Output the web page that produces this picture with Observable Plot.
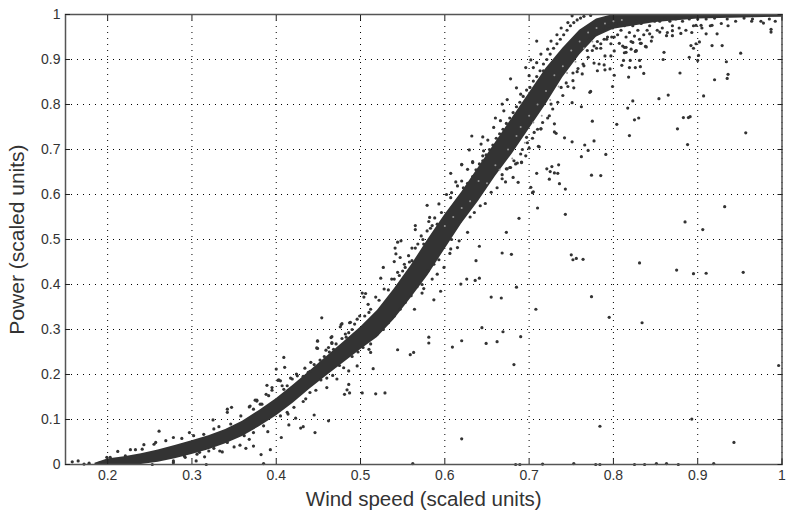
<!DOCTYPE html>
<html>
<head>
<meta charset="utf-8">
<script src="https://cdn.jsdelivr.net/npm/d3@7"></script>
<script src="https://cdn.jsdelivr.net/npm/@observablehq/plot@0.6"></script>
<style>html,body{margin:0;padding:0;background:#fff}svg{display:block}</style>
</head>
<body>
<div id="chart"></div>
<script>
// Solid heart of the cloud: wind speed, lower and upper power edge
const coreX = [.185,.2,.22,.24,.26,.28,.30,.32,.34,.36,.38,.40,.42,.44,.46,.48,.50,.52,.54,.56,.58,.60,.62,.64,.66,.68,.70,.72,.74,.76,.78,.80,.85,.90,1];
const coreLow = [0,0,0,0,.005,.013,.022,.033,.046,.062,.084,.108,.136,.168,.197,.226,.255,.282,.322,.37,.42,.478,.535,.585,.64,.69,.745,.80,.86,.91,.95,.967,.982,.99,.994];
const coreHigh = [.003,.012,.017,.024,.032,.042,.053,.064,.078,.096,.12,.146,.176,.208,.24,.272,.305,.342,.39,.442,.50,.555,.605,.66,.715,.77,.825,.88,.925,.965,.99,1,1,1,1];

// Small light gaps seen inside the upper part of the cloud
const gaps = [
[.60,.53],[.61,.55],[.62,.57],[.63,.585],[.64,.63],[.65,.625],[.66,.665],[.665,.655],[.675,.70],[.68,.68],[.685,.73],[.69,.75],[.695,.715],[.70,.775],[.705,.76],[.71,.80],[.715,.775],[.72,.83],[.725,.81],[.73,.865],[.735,.84],[.74,.885],[.745,.87],[.75,.92],[.755,.895],[.76,.94],[.765,.925],[.77,.96],[.775,.94],[.78,.97],[.79,.98],[.8,.985],[.81,.988]
];

// Isolated points far from the cloud
const farPoints = [
[.544,.255],[.559,.244],[.563,.249],[.581,.27],[.609,.261],[.62,.275],[.649,.269],[.662,.273],[.682,.222],[.996,.22],[.515,.213],[.512,.249],[.486,.178],[.484,.166],[.481,.156],[.487,.159],[.502,.159],[.518,.157],[.529,.159],[.445,.11],[.462,.097],[.446,.071],[.432,.084],[.429,.081],[.62,.057],[.784,.085],[.893,.101],[.943,.049],
[.562,.002],[.684,0],[.689,0],[.716,.001],[.753,.002],[.779,0],[.784,0],[.825,0],[.837,0],[.851,.002],[.863,.002],[.877,0],[.919,.002],
[.710,.570],[.743,.556],[.688,.547],[.673,.516],[.704,.604],[.885,.539],[.906,.522],[.932,.573],[.668,.470],[.679,.467],[.750,.466],[.752,.455],[.756,.458],[.764,.456],[.831,.448],[.875,.432],[.895,.424],[.910,.425],[.954,.427],[.685,.394],[.655,.372],[.667,.370],[.774,.373],[.708,.345],[.795,.327],[.834,.315],[.644,.304],[.669,.295],[.690,.284],
[.709,.941],[.678,.857],[.685,.837],[.674,.811],[.751,.804],[.762,.795],[.772,.827],[.773,.829],[.799,.840],[.801,.865],[.818,.861],[.836,.869],[.781,.875],[.790,.877],[.796,.879],[.819,.882],[.826,.882],[.832,.884],[.810,.887],[.812,.898],[.820,.898],[.831,.898],[.859,.900],[.860,.916],[.890,.905],[.900,.898],[.901,.909],[.934,.895],[.951,.914],[.879,.870],[.920,.855],[.935,.858],[.936,.867],[.907,.819],[.865,.821],[.854,.813],[.823,.808],[.817,.792],[.775,.763],[.804,.756],[.825,.766],[.830,.770],[.883,.771],[.889,.771],[.891,.773],[.876,.746],[.819,.731],[.957,.737],[.888,.711],[.730,.757],[.730,.739],[.732,.736],[.714,.746],[.742,.726],[.751,.717],[.777,.719],[.766,.710],[.770,.698],[.791,.689],[.762,.684],[.711,.707],[.735,.666],[.727,.662],[.721,.657],[.725,.651],[.730,.648],[.734,.647],[.709,.647],[.724,.634],[.736,.624],[.774,.643],[.785,.642],[.743,.612],[.702,.616],[.705,.606],[.687,.627],[.681,.638],[.696,.686],[.691,.672],[.684,.668],[.677,.660],[.673,.657],[.668,.644],
[.987,.961],[.987,.967],[.978,.981],[.964,.985],[.936,.975],[.923,.957],[.929,.931],[.917,.931],[.902,.939],[.898,.935],[.892,.931],[.895,.925],[.910,.957],[.893,.960],[.880,.958],[.870,.953],[.863,.953],[.870,.964],[.855,.961],[.845,.941],[.843,.957],[.838,.929],[.832,.936],[.827,.920],[.826,.918],[.823,.938],[.815,.916],[.813,.927],[.807,.936],[.917,.976],[.904,.976],[.898,.976],
[.454,.326],[.449,.274],[.449,.258],[.465,.282],[.466,.269],[.477,.311],[.476,.306],[.487,.315],[.502,.381],[.506,.380],[.504,.372],[.527,.438],[.524,.414],[.540,.451],[.547,.460],[.542,.468],[.544,.494],[.548,.497],[.541,.481],[.565,.531],[.565,.522],[.579,.576],[.607,.647],[.620,.666],[.633,.671],[.641,.485],[.637,.453],[.626,.412],[.636,.409],[.641,.414],[.619,.401],[.587,.366],[.595,.385],[.581,.283],[.564,.345],[.573,.381],[.575,.391],
[.409,.238],[.410,.216],[.400,.212],[.402,.187],[.389,.176],[.388,.156],[.377,.143],[.347,.127],[.342,.123],[.342,.116],[.325,.099],[.297,.071],[.261,.074],[.212,.029],[.165,.008],[.158,.006],[.415,.088],[.423,.103],[.414,.112],[.406,.06],[.390,.073],[.393,.033],[.382,.022],[.385,.002],[.373,.041],[.357,.043],[.350,.039],[.364,.036],[.336,.028],[.333,.03],[.315,.017],[.320,.03],[.309,.027],[.305,.008],[.317,0],[.278,.004],[.291,.019]
];

const upperEdge = [
[.172,.001],[.178,.003],[.191,.004],[.199,.016],[.203,.016],[.221,.019],[.227,.033],[.233,.033],[.243,.044],[.241,.034],[.255,.045],[.257,.049],[.269,.053],[.278,.06],[.288,.058],[.302,.064],[.314,.067],[.326,.079],[.332,.084],[.346,.09],[.358,.108],[.368,.128],[.373,.123],[.377,.141],[.383,.134],[.395,.171],[.405,.186],[.413,.175],[.419,.19],[.425,.197],[.369,.13],[.375,.143],[.381,.134],[.391,.153],[.395,.165],[.403,.188],[.407,.175],[.409,.167],[.417,.192],[.424,.201],[.434,.214],[.44,.207],[.441,.227],[.448,.259],[.449,.275],[.459,.254],[.462,.26],[.466,.271],[.466,.284],[.468,.256],[.478,.313],[.482,.29],[.486,.293],[.488,.316],[.496,.323],[.509,.356],[.51,.338],
[.432,.196],[.438,.205],[.445,.222],[.452,.232],[.457,.24],[.463,.25],[.471,.268],[.478,.28],[.483,.283],[.49,.30],[.493,.312],[.499,.33],[.505,.33],[.512,.345],[.518,.372],[.522,.365],[.528,.39],[.533,.388],[.537,.412],[.54,.412],[.544,.427],[.546,.42],[.55,.43],[.552,.445],[.553,.438],[.557,.464],[.558,.45],[.561,.453],[.561,.481],[.565,.481],[.568,.49],[.572,.508],[.574,.50],[.575,.49],[.579,.519],[.581,.54],[.582,.549],[.583,.525],[.585,.531],[.588,.548],[.591,.534],[.593,.579],[.596,.56],[.602,.60],[.607,.593],[.608,.604],[.613,.628],[.615,.619],[.62,.63],[.62,.667],[.627,.656],[.629,.699],[.632,.73],[.633,.673],[.643,.712],[.645,.686],[.645,.728],[.646,.697],[.651,.721],[.658,.749],[.66,.77],[.666,.764],[.668,.801],[.67,.786],[.69,.823],[.696,.882],[.7,.864],[.702,.899],[.705,.882],[.709,.893],[.714,.912],[.717,.875],[.722,.923],[.726,.941],[.733,.955],[.738,.97],[.746,.982],[.751,.997]
];
const lowerEdge = [
[.253,0],[.278,.008],[.292,.016],[.306,.023],[.326,.036],[.342,.049],[.362,.064],[.368,.056],[.373,.071],[.385,.086],[.405,.108],[.413,.116],[.421,.127],[.435,.146],[.46,.171],[.472,.19],[.486,.208],[.496,.219],[.51,.256],
[.432,.14],[.44,.16],[.447,.165],[.453,.188],[.46,.192],[.467,.198],[.475,.22],[.48,.215],[.49,.24],[.497,.25],[.503,.26],[.512,.268],[.52,.29],[.527,.3],[.533,.315],[.54,.33],[.547,.345],[.553,.36],[.56,.375],[.567,.395],[.573,.40],[.58,.43],[.585,.412],[.587,.445],[.591,.423],[.593,.455],[.599,.438],[.60,.49],[.606,.469],[.607,.479],[.608,.50],[.612,.525],[.615,.482],[.617,.497],[.618,.54],[.627,.516],
[.674,.657],[.682,.675],[.69,.69],[.691,.671],[.697,.727],[.7,.703],[.706,.738],[.712,.706],[.714,.746],[.724,.775],[.726,.801],[.738,.838],[.744,.848],[.752,.853],[.753,.837],[.757,.873],[.763,.868],[.765,.886],[.777,.892],[.783,.89],[.789,.888],[.79,.908],[.797,.908],[.801,.919],[.813,.915],[.815,.927],[.821,.923],[.827,.919],[.833,.936],[.839,.928],
[.63,.55],[.635,.56],[.642,.575],[.648,.58],[.655,.605],[.662,.615],[.668,.635],[.672,.628],[.678,.66],[.686,.67],[.692,.7],[.698,.715],[.704,.725],[.71,.745],[.716,.76],[.722,.77],[.728,.79],[.734,.805],[.74,.82],[.746,.84],[.752,.87],[.758,.88],[.764,.89],[.77,.905],[.775,.92],[.78,.925],[.785,.935],[.792,.945],[.798,.95]
];

// Loose speckle around the upper part of the cloud
const speckleOuter = [
[.622,.615],[.627,.625],[.633,.64],[.637,.655],[.641,.668],[.645,.675],[.649,.688],[.653,.70],[.657,.71],[.661,.725],[.665,.735],[.669,.745],[.673,.758],[.677,.77],[.681,.782],[.685,.795],[.689,.805],[.693,.818],[.697,.832],[.701,.838],[.705,.852],[.709,.862],[.713,.875],[.717,.89],[.721,.9],[.725,.912],[.729,.925],[.733,.935],[.737,.945],[.741,.955],[.745,.965],[.749,.975],[.753,.982],[.757,.988],[.761,.992],[.765,.996],[.769,.92],[.771,.945],[.773,.998],[.775,.95],[.777,.93],[.779,.955],[.781,.94],[.783,.96],[.785,.925],[.787,.965],[.789,.945],[.791,.97],[.793,.95],[.795,.975],[.797,.935],[.799,.97],[.801,.95],[.803,.978],[.805,.955],[.807,.98],[.809,.965],[.811,.93],[.813,.975],[.815,.95],[.817,.982],[.819,.96],[.821,.94],[.823,.975],[.825,.952],[.827,.985],[.829,.965],[.831,.945],[.833,.98],[.836,.955],[.838,.985],[.84,.965],[.843,.975],[.846,.95],[.849,.985],[.852,.965],[.855,.985],[.858,.97],[.861,.99],[.864,.96],[.867,.985],[.87,.975],[.874,.99],[.878,.97],[.882,.985],[.886,.965],[.89,.99],[.895,.975],[.9,.99],[.905,.97],[.91,.99],[.915,.975],[.92,.992],[.928,.98],[.935,.99],[.945,.985],[.955,.992],[.965,.99],[.975,.985],[.985,.99],[.992,.985]
];

const points = [...farPoints, ...upperEdge, ...lowerEdge, ...speckleOuter].map(([x, y]) => ({x, y}));
const gapPoints = gaps.map(([x, y]) => ({x, y}));
const core = coreX.map((x, i) => ({x, low: coreLow[i], high: coreHigh[i]}));

const xTicks = [.2,.3,.4,.5,.6,.7,.8,.9,1];
const yTicks = [0,.1,.2,.3,.4,.5,.6,.7,.8,.9,1];
const ink = "#333";
const fmt = d => String(d);

const chart = Plot.plot({
  width: 788, height: 513,
  marginLeft: 65, marginRight: 6.5, marginTop: 14, marginBottom: 49,
  style: {fontFamily: "'Liberation Sans', Arial, sans-serif", background: "#fff", color: ink},
  x: {domain: [.15, 1]},
  y: {domain: [0, 1]},
  marks: [
    Plot.gridX(xTicks, {stroke: "#000", strokeOpacity: 1, strokeWidth: 1, strokeDasharray: "1,5"}),
    Plot.gridY(yTicks, {stroke: "#000", strokeOpacity: 1, strokeWidth: 1, strokeDasharray: "1,5"}),
    Plot.areaY(core, {x: "x", y1: "low", y2: "high", fill: ink, curve: "linear"}),
    Plot.dot(gapPoints, {x: "x", y: "y", r: 1, fill: "#999", stroke: "none"}),
    Plot.dot(points, {x: "x", y: "y", r: 1.6, fill: ink, stroke: "none"}),
    Plot.frame({stroke: "#555", strokeWidth: 1.5}),
    Plot.axisX({ticks: xTicks, tickFormat: fmt, tickSize: -5, tickPadding: 11, fontSize: 14, label: null, stroke: "#222"}),
    Plot.axisX({ticks: xTicks, anchor: "top", tickSize: -5, tickFormat: () => "", label: null, stroke: "#222"}),
    Plot.axisY({ticks: yTicks, tickFormat: fmt, tickSize: -5, tickPadding: 10, fontSize: 14, label: null, stroke: "#222"}),
    Plot.axisY({ticks: yTicks, anchor: "right", tickSize: -5, tickFormat: () => "", label: null, stroke: "#222"}),
    Plot.axisX({ticks: [], label: "Wind speed (scaled units)", labelAnchor: "center", labelArrow: "none", labelOffset: 41, fontSize: 20.5}),
    Plot.axisY({ticks: [], label: "Power (scaled units)", labelAnchor: "center", labelArrow: "none", labelOffset: 56, fontSize: 21})
  ]
});
document.getElementById("chart").append(chart);
</script>
</body>
</html>
